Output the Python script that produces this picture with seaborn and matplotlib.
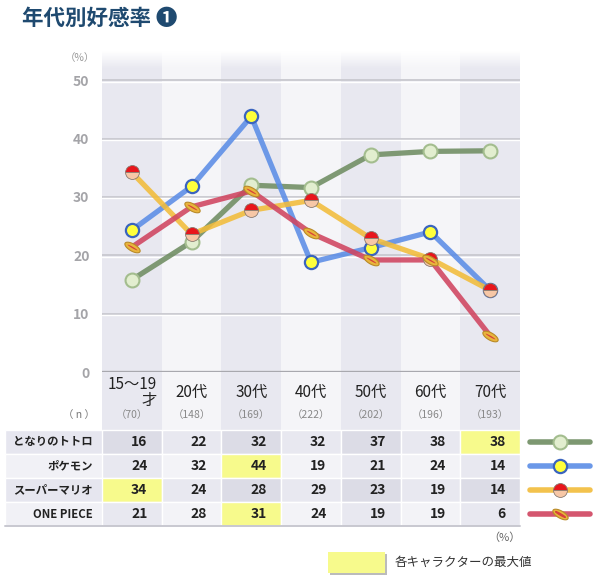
import numpy as np
import pandas as pd
import matplotlib
matplotlib.use("Agg")
import matplotlib.pyplot as plt
from matplotlib.patches import Rectangle
from matplotlib.path import Path
import seaborn as sns

# age groups, sample sizes and rates (%)
ages = ['15～19\n才', '20代', '30代', '40代', '50代', '60代', '70代']
n_size = [70, 148, 169, 222, 202, 196, 193]
characters = ['となりのトトロ', 'ポケモン', 'スーパーマリオ', 'ONE PIECE']
totoro = [15.8, 22.3, 32.0, 31.6, 37.2, 37.8, 37.9]
pokemon = [24.3, 31.8, 43.8, 18.8, 21.3, 24.0, 14.0]
mario = [34.2, 23.6, 27.7, 29.4, 22.9, 19.4, 14.0]
onepiece = [21.4, 28.3, 31.0, 23.8, 19.2, 19.2, 6.2]


def hat_path(ratio=0.42, angle=-30):
    """straw hat brim: a tilted ellipse."""
    t = np.linspace(0, 2 * np.pi, 60)
    x, y = np.cos(t), ratio * np.sin(t)
    a = np.deg2rad(angle)
    xr = x * np.cos(a) - y * np.sin(a)
    yr = x * np.sin(a) + y * np.cos(a)
    return Path(np.column_stack([xr, yr]), closed=True)


styles = {
    'となりのトトロ': dict(color='#6f8d62', marker='o', markersize=10,
                       markerfacecolor='#e2eecf', markeredgecolor='#a3bd8e',
                       markeredgewidth=1.5),
    'ポケモン': dict(color='#5b8de6', marker='o', markersize=9.5,
                  markerfacecolor='#ffff3c', markeredgecolor='#3a64be',
                  markeredgewidth=1.6),
    'スーパーマリオ': dict(color='#f2bc3a', marker='o', markersize=10,
                     fillstyle='top', markerfacecolor='#e8161c',
                     markerfacecoloralt='#f7c7a6', markeredgecolor='#8a7a70',
                     markeredgewidth=0.6),
    'ONE PIECE': dict(color='#d0445f', marker=hat_path(), markersize=11,
                      markerfacecolor='#e9b53c', markeredgecolor='#b98a28',
                      markeredgewidth=0.8),
}
series = dict(zip(characters, [totoro, pokemon, mario, onepiece]))

sns.set_theme(style='white')
plt.rcParams['font.family'] = ['Noto Sans CJK JP', 'DejaVu Sans']

dark_col = '#e8e8f0'
light_col = '#f5f5f8'

fig = plt.figure(figsize=(6, 5.85), dpi=100)
ax = fig.add_axes([102 / 600, (585 - 372) / 585, 418 / 600, 321 / 585])
ax_t = fig.add_axes([102 / 600, (585 - 526) / 585, 418 / 600, 154 / 585])

# ---- chart ----
for i in range(len(ages)):
    ax.axvspan(i - 0.5, i + 0.5, color=dark_col if i % 2 == 0 else light_col,
               lw=0, zorder=0)
for g in [10, 20, 30, 40, 50]:
    ax.axhline(g, color='#c8c8cf', lw=1.3, zorder=1)
    ax.axhline(g - 0.25, color='white', lw=1.0, zorder=1)
ax.axhline(0, color='#a8a8ae', lw=2.4, zorder=1)

grad = np.ones((50, 2, 4))
grad[:, :, 3] = np.linspace(1, 0, 50)[:, None]
ax.imshow(grad, extent=(-0.5, 6.5, 52.0, 55), aspect='auto', zorder=1)

for name in characters:
    st = dict(styles[name])
    df = pd.DataFrame({'age': range(len(ages)), 'rate': series[name]})
    col = st.pop('color')
    sns.lineplot(data=df, x='age', y='rate', ax=ax, color=col, lw=3.8,
                 alpha=0.88, legend=False, zorder=3)
    sns.lineplot(data=df, x='age', y='rate', ax=ax, color=col, linestyle='',
                 legend=False, zorder=4, **st)
    if name == 'ONE PIECE':
        ax.plot(df['age'], df['rate'], linestyle='', marker=hat_path(0.12),
                markersize=7, color='#d8403a', markeredgewidth=0, zorder=5)

ax.set_xlim(-0.5, 6.5)
ax.set_ylim(0, 55)
ax.set_xticks([])
ax.set_yticks([0, 10, 20, 30, 40, 50])
ax.set_yticklabels(['0', '10', '20', '30', '40', '50'], color='#a4a4a8',
                   fontweight='bold', fontsize=10)
ax.tick_params(axis='y', length=0, pad=9)
ax.set_xlabel('')
ax.set_ylabel('')
for s in ax.spines.values():
    s.set_visible(False)
fig.text(80 / 600, 1 - 58 / 585, '（%）', ha='center', va='center',
         fontsize=7.5, color='#999999')

# ---- table ----
head = 58 / 24
ax_t.set_xlim(-0.5, 6.5)
ax_t.set_ylim(len(characters), -head)
ax_t.axis('off')

for i, (a, n) in enumerate(zip(ages, n_size)):
    ax_t.add_patch(Rectangle((i - 0.5, -head), 1, head, lw=0,
                             facecolor=dark_col if i % 2 == 0 else light_col))
    ax_t.text(i, -1.55, a, ha='center', va='center', fontsize=11,
              multialignment='right', color='#222222', linespacing=0.9)
    ax_t.text(i, -0.62, f'（{n}）', ha='center', va='center', fontsize=7.5,
              color='#888888')
ax_t.text(-0.62, -0.62, '（ n ）', ha='right', va='center', fontsize=7.5,
          color='#777777')

label_left = (5 - 102) / (418 / 7) - 0.5
for r, name in enumerate(characters):
    vals = series[name]
    best = int(np.argmax(vals))
    ax_t.add_patch(Rectangle((label_left, r), -0.5 - label_left, 1,
                             facecolor='#e6e6ef' if r % 2 == 0 else '#f1f1f6',
                             edgecolor='white', lw=1, clip_on=False))
    ax_t.text(-0.65, r + 0.5, name, ha='right', va='center', fontsize=8.2,
              fontweight='bold', color='#222222')
    for c, v in enumerate(vals):
        if c == best:
            fc = '#f7fa8c'
        elif r % 2 == 0:
            fc = '#dcdce6' if c % 2 == 0 else '#e8e8f0'
        else:
            fc = '#e8e8f0' if c % 2 == 0 else '#f3f3f7'
        ax_t.add_patch(Rectangle((c - 0.5, r), 1, 1, facecolor=fc,
                                 edgecolor='white', lw=1))
        ax_t.text(c + 0.26, r + 0.5, f'{v:.0f}', ha='right', va='center',
                  fontsize=10, fontweight='bold', color='#222222')

    # legend sample to the right of the row
    st = dict(styles[name])
    col = st.pop('color')
    ax_t.plot([6.67, 7.67], [r + 0.5, r + 0.5], color=col, lw=4,
              solid_capstyle='round', clip_on=False, alpha=0.9)
    ax_t.plot([7.17], [r + 0.5], linestyle='', clip_on=False, zorder=4, **st)
    if name == 'ONE PIECE':
        ax_t.plot([7.17], [r + 0.5], linestyle='', marker=hat_path(0.12),
                  markersize=7, color='#d8403a', clip_on=False, zorder=5)

ax_t.plot([label_left, 6.5], [len(characters)] * 2, color='#c8c8d0', lw=1.4,
          clip_on=False)

# ---- footnote ----
fig.text(521 / 600, 1 - 538 / 585, '（%）', ha='right', va='center',
         fontsize=8, color='#666666')
fig.patches.append(Rectangle((330 / 600, 1 - 575 / 585), 57 / 600, 21 / 585,
                             transform=fig.transFigure, facecolor='#bbbbbb',
                             lw=0))
fig.patches.append(Rectangle((328 / 600, 1 - 573 / 585), 57 / 600, 21 / 585,
                             transform=fig.transFigure, facecolor='#f7fa8c',
                             lw=0))
fig.text(395 / 600, 1 - 562 / 585, '各キャラクターの最大値', ha='left',
         va='center', fontsize=9, color='#333333')

fig.text(22 / 600, 1 - 18 / 585, '年代別好感率 ❶', ha='left', va='center',
         fontsize=15.5, fontweight='bold', color='#1f4a70')

fig.savefig('out.png', dpi=100)
